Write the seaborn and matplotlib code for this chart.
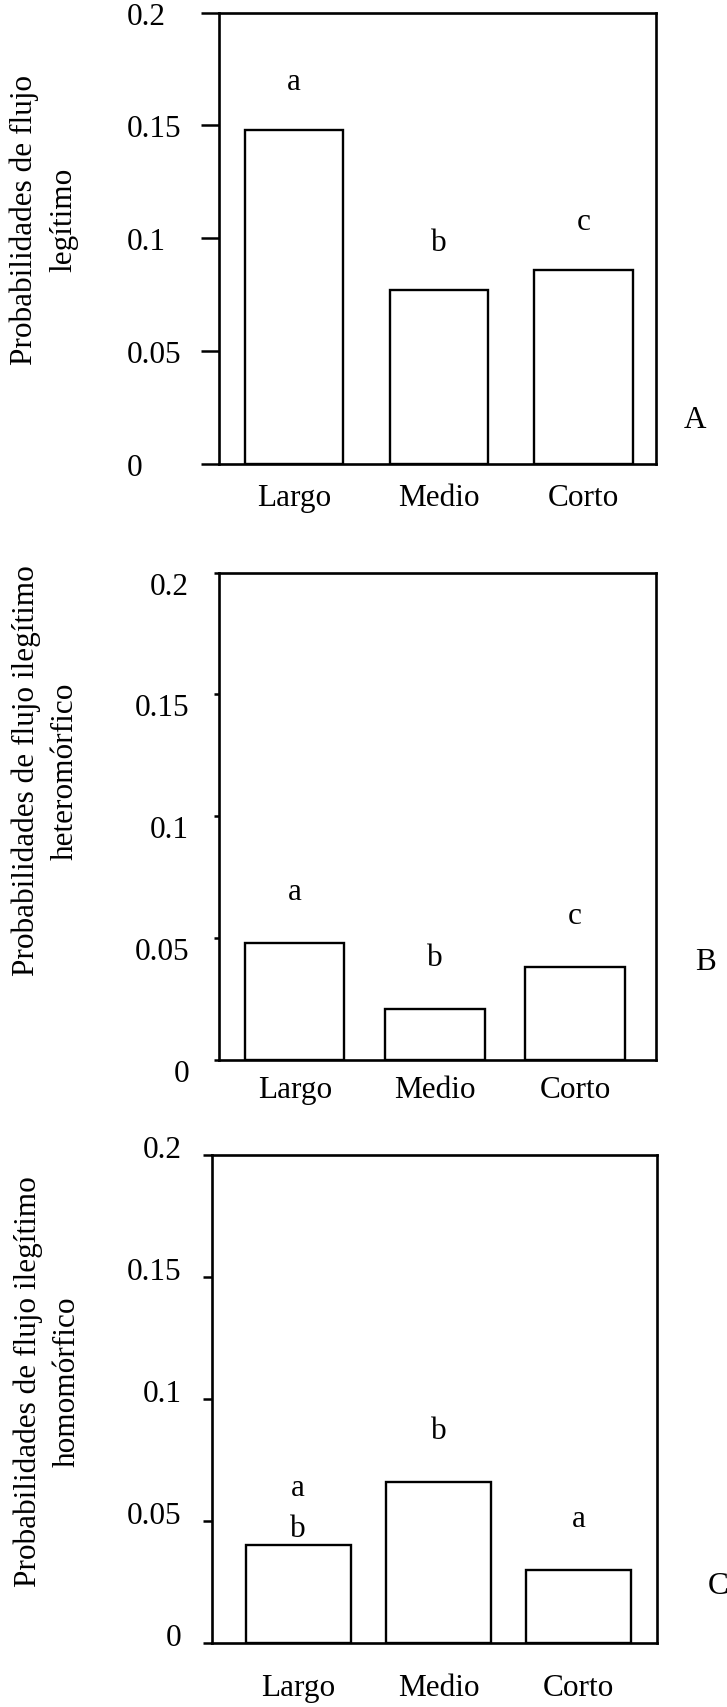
import matplotlib
matplotlib.use("Agg")
import matplotlib.pyplot as plt
import matplotlib.transforms as mtransforms
import seaborn as sns

# ---- data ----
categorias = ["Largo", "Medio", "Corto"]
flujo_legitimo = [0.148, 0.077, 0.086]
flujo_heteromorfico = [0.048, 0.021, 0.038]
flujo_homomorfico = [0.040, 0.066, 0.030]
letras_legitimo = ["a", "b", "c"]
letras_heteromorfico = ["a", "b", "c"]
letras_homomorfico = ["a\nb", "b", "a"]
yticks = [0, 0.05, 0.1, 0.15, 0.2]
ytick_labels = ["0", "0.05", "0.1", "0.15", "0.2"]
ylabels = ["Probabilidades de flujo\nlegítimo",
           "Probabilidades de flujo ilegítimo\nheteromórfico",
           "Probabilidades de flujo ilegítimo\nhomomórfico"]
panel_tags = ["A", "B", "C"]

sns.set_theme(style="white")
plt.rcParams['font.family'] = ['Liberation Serif', 'DejaVu Serif']
FS = 22.5

W, H = 727, 1708
fig = plt.figure(figsize=(W / 100, H / 100), dpi=100)

# layout per panel (pixel boxes etc.)
layouts = [
    dict(box=(219, 13.6, 656, 465), xlim=(-0.518, 2.50), width=0.68, tlen=18, ypad=74, ha='left',
         ydy=0, xpad=19, lab=(-0.40, 0.543), tag=(695, 421, 'center')),
    dict(box=(218.6, 573.6, 656, 1060.7), xlim=(-0.543, 2.578), width=0.71, tlen=5.5, ypad=24, ha='right',
         ydy=-10, xpad=15, lab=(-0.395, 0.595), tag=(706, 963, 'center')),
    dict(box=(211.6, 1156, 656.7, 1644), xlim=(-0.618, 2.556), width=0.75, tlen=9, ypad=21, ha='right',
         ydy=9, xpad=30, lab=(-0.368, 0.538), tag=(708, 1587, 'left')),
]
series = [flujo_legitimo, flujo_heteromorfico, flujo_homomorfico]
letras = [letras_legitimo, letras_heteromorfico, letras_homomorfico]

px2pt = 72 / 100
for k in range(3):
    L = layouts[k]
    l, t, r, b = L['box']
    ax = fig.add_axes([l / W, 1 - b / H, (r - l) / W, (b - t) / H])
    sns.barplot(x=categorias, y=series[k], ax=ax, color="white", saturation=1,
                edgecolor="black", linewidth=1.7, width=L['width'])
    ax.set_xlim(*L['xlim'])
    ax.set_ylim(0, 0.2)
    ax.set_yticks(yticks, ytick_labels)
    for s in ax.spines.values():
        s.set_visible(True)
        s.set_color("black")
        s.set_linewidth(1.9)
    ax.tick_params(axis='y', which='major', left=True, length=L['tlen'] * px2pt, width=1.8,
                   color='black', pad=L['ypad'] * px2pt, labelsize=FS, labelcolor='black')
    ax.tick_params(axis='x', which='major', bottom=False, length=0, pad=L['xpad'] * px2pt,
                   labelsize=FS, labelcolor='black')
    shift = mtransforms.ScaledTranslation(0, L['ydy'] / 100, fig.dpi_scale_trans)
    for lbl in ax.get_yticklabels():
        lbl.set_ha(L['ha'])
        lbl.set_transform(lbl.get_transform() + shift)
    ax.set_xlabel("")
    ax.set_ylabel(ylabels[k], fontsize=FS, color='black', linespacing=1.45, va='center')
    ax.yaxis.set_label_coords(*L['lab'])
    for i, (v, lab) in enumerate(zip(series[k], letras[k])):
        off = 0.004 if "\n" in lab else 0.018
        ax.text(i, v + off, lab, ha='center', va='baseline', fontsize=FS,
                color='black', linespacing=1.55)
    tx, ty, tha = L['tag']
    fig.text(tx / W, 1 - ty / H, panel_tags[k], ha=tha, va='center', fontsize=FS, color='black')

fig.savefig("out.png", dpi=100, facecolor="white")
